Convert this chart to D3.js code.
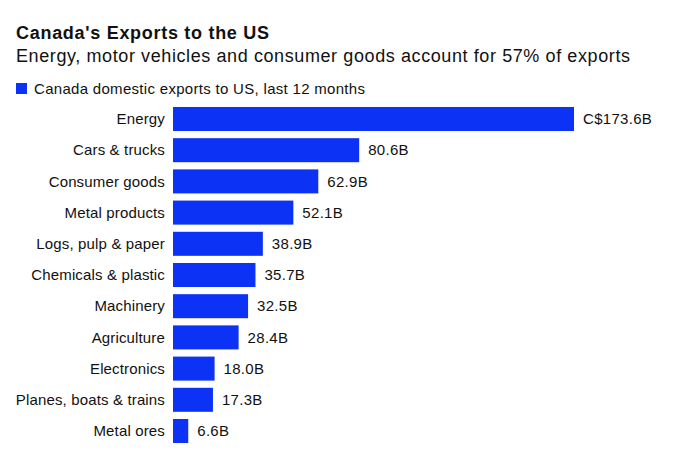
<!DOCTYPE html>
<html><head><meta charset="utf-8">
<script src="https://cdn.jsdelivr.net/npm/d3@7"></script>
<style>body{margin:0;background:#fff}svg{display:block}text{font-family:"Liberation Sans",Arial,sans-serif}</style>
</head><body><svg id="c" width="700" height="450"></svg>
<script>
const categories = ["Energy","Cars & trucks","Consumer goods","Metal products","Logs, pulp & paper","Chemicals & plastic","Machinery","Agriculture","Electronics","Planes, boats & trains","Metal ores"];
const values = [173.6,80.6,62.9,52.1,38.9,35.7,32.5,28.4,18.0,17.3,6.6];
const valueLabels = ["C$173.6B","80.6B","62.9B","52.1B","38.9B","35.7B","32.5B","28.4B","18.0B","17.3B","6.6B"];
const title = "Canada's Exports to the US";
const subtitle = "Energy, motor vehicles and consumer goods account for 57% of exports";
const legendLabel = "Canada domestic exports to US, last 12 months";

const svg = d3.select("#c");
const blue = "#0b32f5";
const x0 = 173;
const x = d3.scaleLinear().domain([0, 173.6]).range([x0, 574]);
const y = d3.scaleBand().domain(categories).range([103.4, 446.6]).paddingInner(0.23).paddingOuter(0.115);

function fitWidth(sel, w) {
  const n = sel.text().length;
  const m = sel.node().getComputedTextLength();
  if (n > 1) sel.attr("letter-spacing", (w - m) / (n - 1));
}

const t = svg.append("text").attr("x",16).attr("y",39).attr("font-size",18).attr("font-weight","bold").attr("fill","#111").text(title);
fitWidth(t, 253);
const s = svg.append("text").attr("x",16).attr("y",62).attr("font-size",18).attr("fill","#111").text(subtitle);
fitWidth(s, 614);
svg.append("rect").attr("x",16).attr("y",83).attr("width",11).attr("height",11).attr("fill",blue);
const l = svg.append("text").attr("x",34).attr("y",94).attr("font-size",15).attr("fill","#111").text(legendLabel);
fitWidth(l, 331);

svg.selectAll("rect.bar").data(categories).join("rect").attr("class","bar")
  .attr("x",x0).attr("y",d=>y(d)).attr("height",y.bandwidth())
  .attr("width",(d,i)=>x(values[i])-x0).attr("fill",blue);

svg.selectAll("text.cat").data(categories).join("text").attr("class","cat")
  .attr("x",165).attr("y",d=>y(d)+y.bandwidth()/2).attr("dy","0.35em")
  .attr("text-anchor","end").attr("font-size",15).attr("letter-spacing",0.15).attr("fill","#111").text(d=>d);

svg.selectAll("text.val").data(categories).join("text").attr("class","val")
  .attr("x",(d,i)=>x(values[i])+9).attr("y",d=>y(d)+y.bandwidth()/2).attr("dy","0.35em")
  .attr("font-size",15).attr("letter-spacing",0.3).attr("fill","#111").text((d,i)=>valueLabels[i]);
</script></body></html>
